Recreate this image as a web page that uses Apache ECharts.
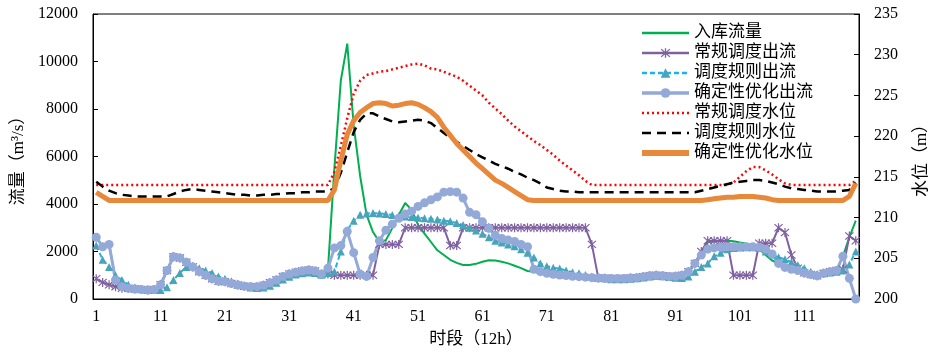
<!DOCTYPE html>
<html>
<head>
<meta charset="utf-8">
<script src="https://cdn.jsdelivr.net/npm/echarts@6/dist/echarts.min.js"></script>
<style>
  html, body { margin: 0; padding: 0; background: #fff; }
  #chart { width: 939px; height: 353px; }
</style>
</head>
<body>
<div id="chart"></div>
<script>
// time periods (12h each)
const periods = [];
for (let i = 1; i <= 119; i++) periods.push(String(i));

// flows, m3/s (left axis)
const inflow = [
  2600, 2200, 2300, 800, 520, 450, 420, 400, 380, 400,
  600, 1200, 1780, 1730, 1550, 1350, 1150, 1000, 850, 750,
  730, 650, 590, 540, 520, 520, 580, 680, 800, 950,
  1050, 1130, 1180, 1220, 1180, 1050, 1250, 5500, 9200, 10750,
  7300, 5180, 3540, 2820, 2400, 2480, 2990, 3540, 4040, 3750,
  3120, 2750, 2400, 2050, 1850, 1650, 1520, 1430, 1430, 1480,
  1570, 1630, 1620, 1570, 1500, 1400, 1300, 1180, 1150, 1100,
  1060, 1040, 1010, 990, 960, 940, 920, 900, 880, 870,
  860, 860, 860, 880, 900, 940, 980, 1000, 980, 950,
  960, 1000, 1150, 1500, 2000, 2400, 2420, 2450, 2450, 2430,
  2380, 2330, 2250, 2100, 1850, 1620, 1500, 1330, 1250, 1200,
  1100, 1030, 980, 1080, 1150, 1200, 1800, 2600, 3300
];
const regularOut = [
  850, 700, 600, 520, 450, 450, 420, 400, 380, 400,
  600, 1200, 1780, 1730, 1550, 1350, 1150, 1000, 850, 750,
  730, 650, 590, 540, 520, 520, 580, 680, 800, 950,
  1050, 1130, 1180, 1220, 1180, 1050, 1050, 1000, 1000, 1000,
  1000, 1000, 1000, 1000, 2300, 2300, 2300, 2300, 3000, 3000,
  3000, 3000, 3000, 3000, 3000, 2250, 2250, 3000, 3000, 3000,
  3000, 3000, 3000, 3000, 3000, 3000, 3000, 3000, 3000, 3000,
  3000, 3000, 3000, 3000, 3000, 3000, 3000, 2300, 880, 870,
  860, 860, 860, 880, 900, 940, 980, 1000, 980, 950,
  960, 1000, 1150, 1500, 2000, 2450, 2450, 2450, 2450, 1000,
  1000, 1000, 1000, 2350, 2350, 2350, 3000, 2800, 1850, 1300,
  1100, 1030, 980, 1080, 1150, 1200, 1250, 2650, 2450
];
const ruleOut = [
  2250, 1650, 1350, 1000, 800, 600, 480, 430, 400, 380,
  380, 500, 800, 1100, 1350, 1400, 1300, 1200, 1100, 950,
  850, 750, 650, 560, 480, 460, 480, 560, 680, 820,
  940, 1030, 1080, 1120, 1100, 1020, 1100, 1150, 2000, 2900,
  3300, 3550, 3600, 3620, 3600, 3580, 3540, 3500, 3470, 3450,
  3420, 3400, 3380, 3350, 3300, 3270, 3200, 3120, 3000, 2880,
  2750, 2600, 2450, 2380, 2300, 2220, 2100, 1950, 1750, 1500,
  1380, 1320, 1280, 1200, 1130, 1080, 1010, 950, 900, 870,
  830, 830, 830, 850, 870, 910, 950, 980, 960, 930,
  900, 880, 950, 1150, 1350, 1500, 1800, 1950, 2100, 2150,
  2170, 2180, 2180, 2150, 2000, 1870, 1760, 1670, 1550, 1420,
  1300, 1150, 1050, 1080, 1120, 1150, 1200, 1450, 2000
];
const optOut = [
  2600, 2200, 2300, 800, 520, 450, 420, 400, 380, 400,
  600, 1200, 1780, 1730, 1550, 1350, 1150, 1000, 850, 750,
  730, 650, 590, 540, 520, 520, 580, 680, 800, 950,
  1050, 1130, 1180, 1220, 1180, 1050, 1300, 2150, 2250, 2850,
  1950, 1050, 950, 1750, 2450, 2900, 3150, 3400, 3580, 3700,
  3900, 4050, 4180, 4300, 4500, 4520, 4500, 4250, 3650, 3550,
  3250, 2980, 2680, 2550, 2480, 2420, 2300, 2200, 1250, 1150,
  1080, 1040, 1010, 990, 960, 940, 920, 900, 880, 870,
  860, 860, 860, 880, 900, 940, 980, 1000, 980, 950,
  960, 1000, 1150, 1500, 1850, 2100, 2150, 2180, 2200, 2200,
  2200, 2200, 2200, 2180, 2100, 1900, 1500, 1330, 1250, 1200,
  1100, 1030, 980, 1080, 1150, 1200, 1800, 870, 0
];

// water levels, m (right axis)
const regularLevel = [
  214.0, 214.0, 214.0, 214.0, 214.0, 214.0, 214.0, 214.0, 214.0, 214.0,
  214.0, 214.0, 214.0, 214.0, 214.0, 214.0, 214.0, 214.0, 214.0, 214.0,
  214.0, 214.0, 214.0, 214.0, 214.0, 214.0, 214.0, 214.0, 214.0, 214.0,
  214.0, 214.0, 214.0, 214.0, 214.0, 214.0, 214.0, 215.6, 218.8, 222.2,
  225.2, 226.8, 227.5, 227.7, 227.9, 228.0, 228.2, 228.4, 228.6, 228.8,
  228.9, 228.7, 228.3, 228.2, 227.9, 227.6, 227.3, 226.8, 226.2, 225.6,
  225.0, 224.1, 223.4, 222.7, 221.9, 221.2, 220.6, 220.0, 219.4, 218.9,
  218.3, 217.7, 217.0, 216.4, 215.8, 215.2, 214.5, 214.0, 214.0, 214.0,
  214.0, 214.0, 214.0, 214.0, 214.0, 214.0, 214.0, 214.0, 214.0, 214.0,
  214.0, 214.0, 214.0, 214.0, 214.0, 214.0, 214.0, 214.0, 214.0, 214.3,
  215.0, 215.7, 216.2, 216.2, 215.8, 215.3, 214.7, 214.2, 214.0, 214.0,
  214.0, 214.0, 214.0, 214.0, 214.0, 214.0, 214.0, 214.0, 214.5
];
const ruleLevel = [
  214.4, 213.8, 213.3, 213.0, 212.8, 212.7, 212.6, 212.6, 212.6, 212.6,
  212.6, 212.6, 212.9, 213.2, 213.4, 213.5, 213.4, 213.3, 213.2, 213.1,
  213.0, 212.9, 212.8, 212.8, 212.7, 212.7, 212.8, 212.8, 212.9, 212.9,
  213.0, 213.0, 213.1, 213.1, 213.2, 213.2, 213.2, 213.6, 215.5, 218.0,
  220.5, 222.0, 222.8, 222.8, 222.4, 222.1, 221.8, 221.7, 221.8, 221.9,
  222.0, 221.9, 221.6, 221.0, 220.4, 219.8, 219.3, 218.8, 218.3, 217.8,
  217.4, 217.0, 216.6, 216.3, 216.0, 215.6, 215.3, 214.9, 214.6, 214.2,
  213.7, 213.5, 213.3, 213.2, 213.2, 213.1, 213.1, 213.1, 213.1, 213.1,
  213.1, 213.1, 213.1, 213.1, 213.1, 213.1, 213.1, 213.1, 213.1, 213.1,
  213.1, 213.1, 213.1, 213.1, 213.3, 213.5, 213.7, 213.9, 214.1, 214.3,
  214.4, 214.5, 214.6, 214.6, 214.5, 214.3, 214.1, 213.8, 213.6, 213.5,
  213.4, 213.3, 213.2, 213.2, 213.2, 213.2, 213.3, 213.4, 214.3
];
const optLevel = [
  213.1, 212.6, 212.1, 212.1, 212.1, 212.1, 212.1, 212.1, 212.1, 212.1,
  212.1, 212.1, 212.1, 212.1, 212.1, 212.1, 212.1, 212.1, 212.1, 212.1,
  212.1, 212.1, 212.1, 212.1, 212.1, 212.1, 212.1, 212.1, 212.1, 212.1,
  212.1, 212.1, 212.1, 212.1, 212.1, 212.1, 212.1, 213.4, 217.0, 220.2,
  221.9, 222.9, 223.5, 224.0, 224.1, 224.0, 223.7, 223.8, 224.0, 224.1,
  223.9, 223.5, 223.0, 222.3, 221.1, 220.1, 219.1, 218.3, 217.5, 216.7,
  216.0, 215.3, 214.6, 214.2, 213.7, 213.2, 212.7, 212.2, 212.1, 212.1,
  212.1, 212.1, 212.1, 212.1, 212.1, 212.1, 212.1, 212.1, 212.1, 212.1,
  212.1, 212.1, 212.1, 212.1, 212.1, 212.1, 212.1, 212.1, 212.1, 212.1,
  212.1, 212.1, 212.1, 212.1, 212.1, 212.2, 212.3, 212.4, 212.5, 212.5,
  212.6, 212.6, 212.6, 212.5, 212.4, 212.2, 212.1, 212.1, 212.1, 212.1,
  212.1, 212.1, 212.1, 212.1, 212.1, 212.1, 212.1, 212.6, 214.2
];

const serif = "'Liberation Serif', 'Noto Sans CJK SC', serif";
// asterisk marker: vertical bar + X
const asterisk = 'path://M-0.6,-5L0.6,-5L0.6,5L-0.6,5Z' +
  'M-4.42,-3.58L-3.58,-4.42L4.42,3.58L3.58,4.42Z' +
  'M-3.58,4.42L-4.42,3.58L3.58,-4.42L4.42,-3.58Z';

// line-only series get no marker in the legend
const noMark = { opacity: 0 };

const chart = echarts.init(document.getElementById('chart'));
chart.setOption({
  animation: false,
  grid: { left: 93, right: 80, top: 14, bottom: 54, show: true, borderColor: '#000', borderWidth: 1 },
  legend: {
    orient: 'vertical',
    left: 634,
    top: 18,
    itemWidth: 47,
    itemHeight: 12,
    itemGap: 0,
    textStyle: { fontSize: 17, lineHeight: 20, color: '#000', fontFamily: serif },
    data: [
      { name: '入库流量', itemStyle: noMark, lineStyle: { width: 2.5 } },
      { name: '常规调度出流', lineStyle: { width: 2.5 } },
      { name: '调度规则出流', lineStyle: { width: 2.5 } },
      { name: '确定性优化出流', lineStyle: { width: 3.5 } },
      { name: '常规调度水位', itemStyle: noMark, lineStyle: { width: 2.5 } },
      { name: '调度规则水位', itemStyle: noMark, lineStyle: { width: 2.5 } },
      { name: '确定性优化水位', itemStyle: noMark, lineStyle: { width: 6 } }
    ]
  },
  xAxis: {
    type: 'category',
    data: periods,
    boundaryGap: true,
    name: '时段（12h）',
    nameLocation: 'middle',
    nameGap: 32,
    nameTextStyle: { fontSize: 17, color: '#000', fontFamily: serif },
    axisLine: { lineStyle: { color: '#000', width: 1 } },
    axisTick: { inside: true, interval: 9, length: 5, lineStyle: { color: '#000' } },
    axisLabel: { interval: 9, fontSize: 16, color: '#000', fontFamily: serif, margin: 10 },
    splitLine: { show: false }
  },
  yAxis: [
    {
      type: 'value',
      min: 0, max: 12000, interval: 2000,
      name: '流量（m³/s）',
      nameLocation: 'middle',
      nameRotate: 90,
      nameGap: 66,
      nameTextStyle: { fontSize: 17, color: '#000', fontFamily: serif },
      axisLine: { show: true, lineStyle: { color: '#000', width: 1 } },
      axisTick: { show: true, inside: true, length: 5, lineStyle: { color: '#000' } },
      axisLabel: { fontSize: 16, color: '#000', fontFamily: serif, margin: 15, formatter: (v) => String(v) },
      splitLine: { show: false }
    },
    {
      type: 'value',
      min: 200, max: 235, interval: 5,
      position: 'right',
      name: '水位（m）',
      nameLocation: 'middle',
      nameRotate: 90,
      nameGap: 54,
      nameTextStyle: { fontSize: 17, color: '#000', fontFamily: serif },
      axisLine: { show: true, lineStyle: { color: '#000', width: 1 } },
      axisTick: { show: true, inside: true, length: 5, lineStyle: { color: '#000' } },
      axisLabel: { fontSize: 16, color: '#000', fontFamily: serif, margin: 15 },
      splitLine: { show: false }
    }
  ],
  series: [
    {
      name: '入库流量', type: 'line', yAxisIndex: 0, data: inflow,
      symbol: 'none',
      lineStyle: { color: '#00B050', width: 2 },
      itemStyle: { color: '#00B050' }
    },
    {
      name: '常规调度出流', type: 'line', yAxisIndex: 0, data: regularOut,
      symbol: asterisk, symbolSize: 9, showAllSymbol: true,
      lineStyle: { color: '#7F60A0', width: 2 },
      itemStyle: { color: '#7F60A0' }
    },
    {
      name: '调度规则出流', type: 'line', yAxisIndex: 0, data: ruleOut,
      symbol: 'triangle', symbolSize: 8, showAllSymbol: true,
      lineStyle: { color: '#1CB2EE', width: 2, type: [5, 3] },
      itemStyle: { color: '#4BA3B9' }
    },
    {
      name: '确定性优化出流', type: 'line', yAxisIndex: 0, data: optOut,
      symbol: 'circle', symbolSize: 9, showAllSymbol: true,
      lineStyle: { color: '#93A9D8', width: 3 },
      itemStyle: { color: '#93A9D8' }
    },
    {
      name: '常规调度水位', type: 'line', yAxisIndex: 1, data: regularLevel,
      symbol: 'none',
      lineStyle: { color: '#FF0000', width: 2.5, type: [2, 3] },
      itemStyle: { color: '#FF0000' }
    },
    {
      name: '调度规则水位', type: 'line', yAxisIndex: 1, data: ruleLevel,
      symbol: 'none',
      lineStyle: { color: '#000000', width: 2.5, type: [9, 6] },
      itemStyle: { color: '#000000' }
    },
    {
      name: '确定性优化水位', type: 'line', yAxisIndex: 1, data: optLevel,
      symbol: 'none',
      lineStyle: { color: '#E8883A', width: 5 },
      itemStyle: { color: '#E8883A' }
    }
  ]
});
</script>
</body>
</html>
